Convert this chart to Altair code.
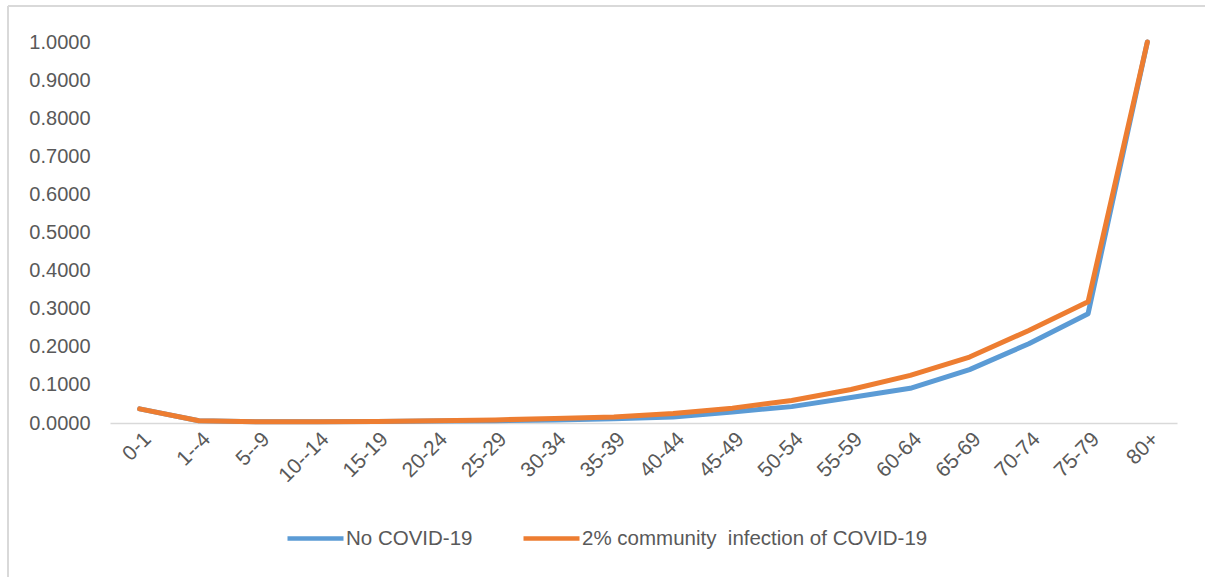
import altair as alt
import pandas as pd

age_groups = ["0-1", "1--4", "5--9", "10--14", "15-19", "20-24", "25-29", "30-34",
              "35-39", "40-44", "45-49", "50-54", "55-59", "60-64", "65-69",
              "70-74", "75-79", "80+"]
no_covid = [0.037, 0.006, 0.003, 0.003, 0.004, 0.005, 0.006, 0.008, 0.011,
            0.016, 0.029, 0.043, 0.067, 0.091, 0.140, 0.208, 0.287, 1.0]
covid_2pct = [0.037, 0.006, 0.003, 0.003, 0.004, 0.006, 0.008, 0.012, 0.016,
              0.025, 0.039, 0.059, 0.088, 0.125, 0.173, 0.243, 0.318, 1.0]
series_names = ["No COVID-19", "2% community\u00a0 infection of COVID-19"]
series_colors = ["#5B9BD5", "#ED7D31"]
y_ticks = [0.0, 0.1, 0.2, 0.3, 0.4, 0.5, 0.6, 0.7, 0.8, 0.9, 1.0]

rows = []
for order, (name, vals) in enumerate(zip(series_names, [no_covid, covid_2pct])):
    for age, v in zip(age_groups, vals):
        rows.append({"age": age, "value": v, "series": name, "order": order})
df = pd.DataFrame(rows)

FONT = "Liberation Sans"
GREY = "#595959"
BORDER = "#D9D9D9"

lines = alt.Chart(df).mark_line(strokeWidth=5, strokeCap="round", strokeJoin="round").encode(
    x=alt.X("age:N", sort=age_groups, title=None,
            scale=alt.Scale(paddingInner=0, paddingOuter=0.5),
            axis=alt.Axis(labelAngle=-45, labelFontSize=21, labelColor=GREY, labelFont=FONT,
                          ticks=False, domainColor=BORDER, domainWidth=1.5,
                          labelPadding=5, grid=False)),
    y=alt.Y("value:Q", title=None, scale=alt.Scale(domain=[0, 1], nice=False),
            axis=alt.Axis(values=y_ticks, format=".4f", labelFontSize=20, labelColor=GREY,
                          labelFont=FONT, ticks=False, domain=False, grid=False,
                          labelPadding=20)),
    color=alt.Color("series:N", sort=series_names,
                    scale=alt.Scale(domain=series_names, range=series_colors),
                    legend=alt.Legend(title=None, orient="none", direction="horizontal",
                                      legendX=175, legendY=466,
                                      symbolType="stroke", symbolSize=3136,
                                      symbolStrokeWidth=4.5, labelFontSize=20.5,
                                      labelColor=GREY, labelFont=FONT, labelOffset=0,
                                      labelLimit=800, columnPadding=41, padding=0)),
    detail="series:N",
    order="order:Q",
)

# outer frame: top and left edges
top_edge = alt.Chart(df).mark_rule(color=BORDER, strokeWidth=1.5).encode(
    x=alt.value(-102), x2=alt.value(1100), y=alt.value(-36))
left_edge = alt.Chart(df).mark_rule(color=BORDER, strokeWidth=1.5).encode(
    x=alt.value(-102), y=alt.value(-36), y2=alt.value(540))

chart = alt.layer(top_edge, left_edge, lines).properties(
    width=1067, height=381,
    autosize=alt.AutoSizeParams(type="none"),
    padding={"left": 110, "top": 42, "right": 28, "bottom": 154},
    background="white",
).configure_view(stroke=None)

chart.save("out.html", embed_options={"renderer": "svg", "actions": False})
